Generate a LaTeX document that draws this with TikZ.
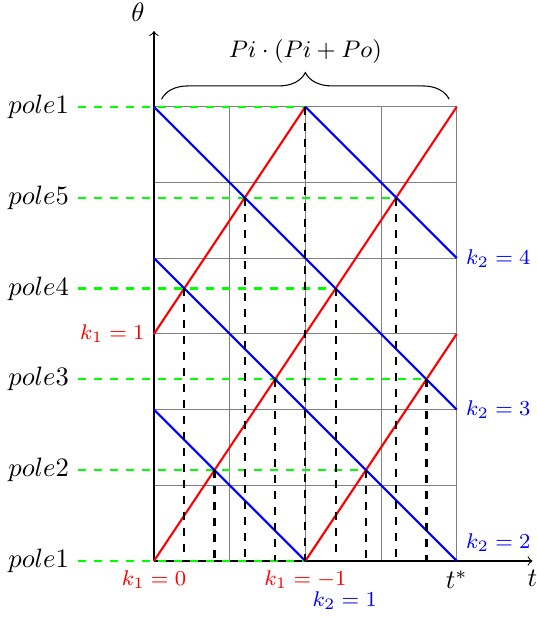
\documentclass[tikz,border=0pt]{standalone}
\usepackage{amsmath}
\usetikzlibrary{decorations.pathreplacing}
\begin{document}
\begin{tikzpicture}[pole/.style={green,thick,dashed},
  drop/.style={black,thick,dashed},
  lbl/.style={font=\footnotesize}]
  \useasboundingbox (-2.034,-0.740) rectangle (5.059,7.411);
  \draw[gray,thin] (0,0) grid (4,6);
  \draw[->] (0,0)--(5,0) node[below] (t) {$t$};
  \draw[->] (0,0)--(0,7) node[above left] (theta) {$\theta$};
  \foreach \y/\n/\e [count=\i] in {0/1/2,1.2/2/2.8,2.4/3/3.6,3.6/4/2.4,4.8/5/3.2,6/1/2}{
    \node[left] (pole\i) at (-1,\y) {$pole\n$};
    \draw[pole] (pole\i.east)--(\e,\y);
  }
  \draw[red,thick] (0,0)--(4,6);
  \draw[red,thick] (0,3)--(2,6);
  \draw[red,thick] (2,0)--(4,3);
  \draw[blue,thick] (0,6)--(4,2);
  \draw[blue,thick] (0,4)--(4,0);
  \draw[blue,thick] (0,2)--(2,0);
  \draw[blue,thick] (2,6)--(4,4);
  \foreach \x/\y in {0.4/3.6,0.8/1.2,1.2/4.8,1.6/2.4,2.0/6,2.4/3.6,2.8/1.2,3.2/4.8,3.6/2.4}
    \draw[drop] (\x,\y)--(\x,0);
  \draw[decorate,decoration={brace,amplitude=10pt}] (0.1,6.1)--(3.9,6.1)
    node[midway,above=10pt,font=\small] (len) {$Pi\cdot(Pi+Po)$};
  \node[lbl,red,left] (k1a) at (0,3) {$k_1=1$};
  \node[lbl,red,below] (k1b) at (0,0) {$k_1=0$};
  \node[lbl,red,below] (k1c) at (2,0) {$k_1=-1$};
  \node[lbl,blue] (k2a) at (2.52,-0.52) {$k_2=1$};
  \node[lbl,blue,above right] (k2b) at (4,0) {$k_2=2$};
  \node[lbl,blue,right] (k2c) at (4,2) {$k_2=3$};
  \node[lbl,blue,right] (k2d) at (4,4) {$k_2=4$};
  \node[below] (tstar) at (4,0) {$t^*$};
\end{tikzpicture}
\end{document}
